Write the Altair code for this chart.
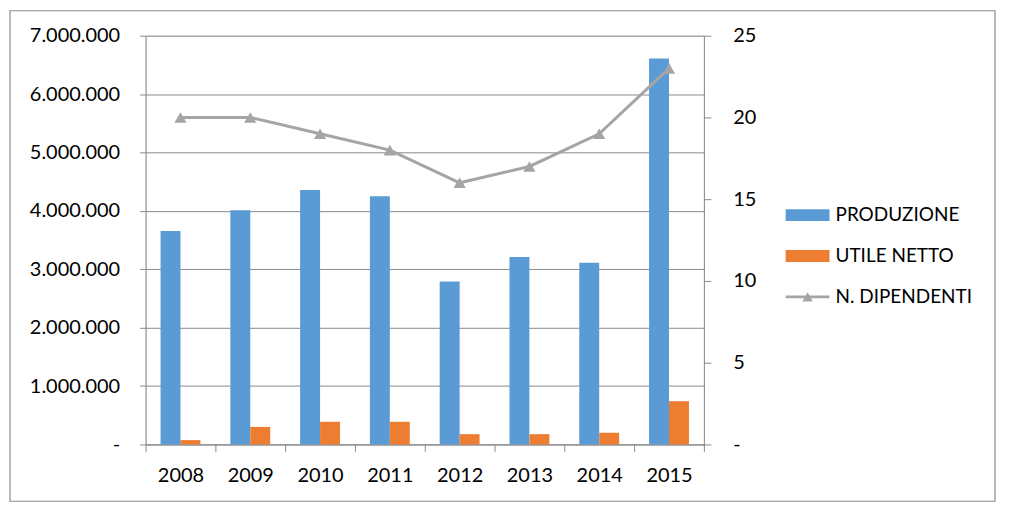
import altair as alt
import pandas as pd

years = ["2008", "2009", "2010", "2011", "2012", "2013", "2014", "2015"]
produzione = [3655000, 4010000, 4355000, 4250000, 2790000, 3210000, 3110000, 6610000]
utile_netto = [74000, 300000, 388000, 388000, 176000, 176000, 200000, 740000]
dipendenti = [20, 20, 19, 18, 16, 17, 19, 23]
series = ["PRODUZIONE", "UTILE NETTO", "N. DIPENDENTI"]
colors = ["#5B9BD5", "#ED7D31", "#A5A5A5"]

FONT = "Lato"
GRID = "#8a8a8a"

bars_df = pd.DataFrame(
    [{"year": y, "series": series[0], "value": v} for y, v in zip(years, produzione)]
    + [{"year": y, "series": series[1], "value": v} for y, v in zip(years, utile_netto)]
)
line_df = pd.DataFrame({"year": years, "value": dipendenti})

xscale = alt.Scale(paddingInner=0, paddingOuter=0)
xaxis = alt.Axis(
    title=None, labelAngle=0, tickBand="extent", domainColor=GRID, tickColor=GRID,
    tickSize=7, labelFont=FONT, labelFontSize=20, labelColor="#000", labelPadding=14, grid=False,
)

bars = alt.Chart(bars_df).mark_bar().encode(
    x=alt.X("year:N", sort=years, scale=xscale, axis=xaxis),
    xOffset=alt.XOffset("series:N", sort=series[:2],
                        scale=alt.Scale(paddingInner=0, paddingOuter=0.75)),
    y=alt.Y("value:Q", scale=alt.Scale(domain=[0, 7000000], nice=False),
            axis=alt.Axis(title=None, values=list(range(0, 7000001, 1000000)),
                          labelExpr="datum.value == 0 ? '-' : format(datum.value/1000000, 'd') + '.000.000'",
                          labelFont=FONT, labelFontSize=20, labelColor="#000", labelPadding=20,
                          tickSize=6, tickColor=GRID, domainColor=GRID, gridColor=GRID, grid=True)),
    color=alt.Color("series:N", scale=alt.Scale(domain=series[:2], range=colors[:2]), legend=None),
)

line_base = alt.Chart(line_df).encode(
    x=alt.X("year:N", sort=years, scale=xscale, axis=xaxis),
    y=alt.Y("value:Q", scale=alt.Scale(domain=[0, 25], nice=False),
            axis=alt.Axis(title=None, orient="right", values=[0, 5, 10, 15, 20, 25],
                          labelExpr="datum.value == 0 ? '-' : datum.label",
                          labelFont=FONT, labelFontSize=20, labelColor="#000", labelPadding=22,
                          tickSize=7, tickColor=GRID, domainColor=GRID, grid=False)),
)
line = line_base.mark_line(color=colors[2], strokeWidth=3)
pts = line_base.mark_point(shape="triangle-up", filled=True, size=150, opacity=1, color=colors[2])

main = alt.layer(bars, alt.layer(line, pts)).resolve_scale(y="independent")

# manual legend (pixel positions relative to plot area)
one = pd.DataFrame({"a": [0]})
leg_layers = []
rows_y = [180, 221, 262]
for i, name in enumerate(series):
    yv = rows_y[i]
    if i < 2:
        leg_layers.append(alt.Chart(one).mark_rect(color=colors[i]).encode(
            x=alt.value(642), x2=alt.value(686), y=alt.value(yv - 6), y2=alt.value(yv + 6)))
    else:
        leg_layers.append(alt.Chart(one).mark_rule(color=colors[i], strokeWidth=3).encode(
            x=alt.value(642), x2=alt.value(686), y=alt.value(yv)))
        leg_layers.append(alt.Chart(one).mark_point(shape="triangle-up", filled=True, size=110,
                                                    opacity=1, color=colors[i]).encode(
            x=alt.value(664), y=alt.value(yv)))
    leg_layers.append(alt.Chart(pd.DataFrame({"t": [name]})).mark_text(
        align="left", baseline="middle", font=FONT, fontSize=19, color="#000").encode(
        x=alt.value(692), y=alt.value(yv), text="t:N"))

border = alt.Chart(one).mark_rect(fill=None, stroke="#8c8c8c", strokeWidth=1.2).encode(
    x=alt.value(-136), x2=alt.value(852), y=alt.value(-25), y2=alt.value(467))

chart = alt.layer(main, *leg_layers, border).properties(
    width=560, height=410,
    autosize=alt.AutoSizeParams(type="none"),
    padding={"left": 138, "top": 27, "right": 300, "bottom": 60},
).configure_view(stroke=None).configure(background="white")

chart.save("out.html", embed_options={"renderer": "svg", "actions": False})
